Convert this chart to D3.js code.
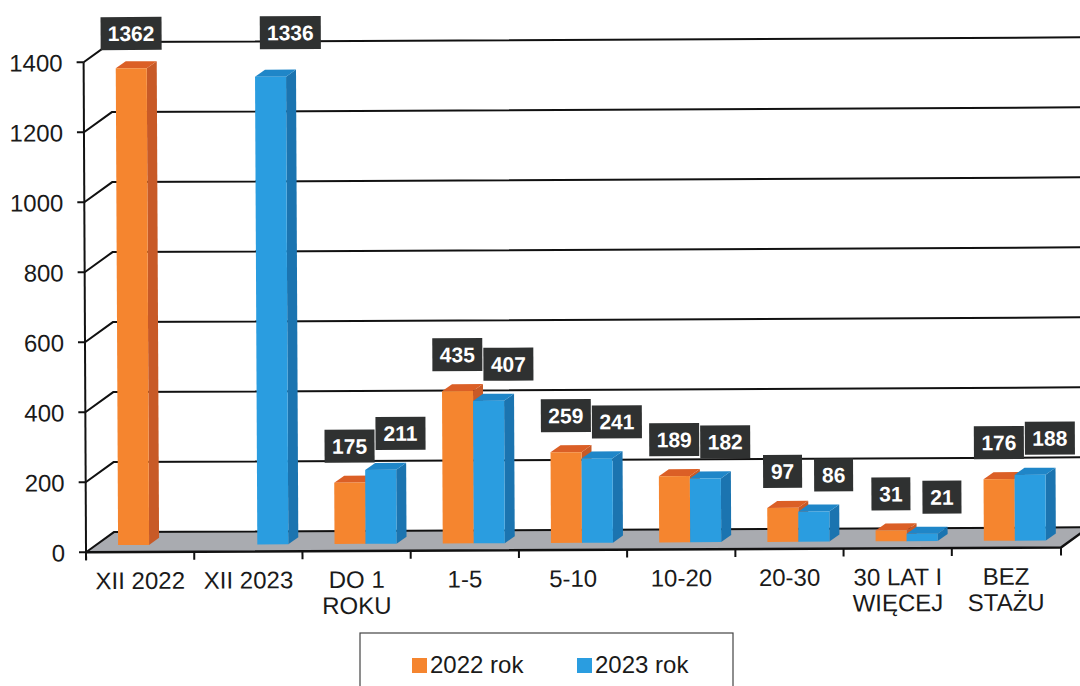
<!DOCTYPE html>
<html>
<head>
<meta charset="utf-8">
<script src="https://cdn.jsdelivr.net/npm/d3@7"></script>
<style>
  body { margin: 0; background: #fff; }
  text { font-family: "Liberation Sans", Arial, sans-serif; }
</style>
</head>
<body>
<div id="chart"></div>
<script>
// data
var categories = ["XII 2022", "XII 2023", "DO 1\nROKU", "1-5", "5-10", "10-20", "20-30", "30 LAT I\nWIĘCEJ", "BEZ\nSTAŻU"];
var values2022 = [1362, null, 175, 435, 259, 189, 97, 31, 176];
var values2023 = [null, 1336, 211, 407, 241, 182, 86, 21, 188];
var seriesNames = ["2022 rok", "2023 rok"];
var yTicks = [0, 200, 400, 600, 800, 1000, 1200, 1400];

var W = 1080, H = 686;
var plotLeft = 85, plotRight = 1059, plotBottom = 550, plotTop = 60;
var floorDx = 28, floorDy = -20;   // depth of the floor / back wall
var barOx = 9, barOy = -7;         // bar front plane offset
var barDx = 10, barDy = -7;        // bar depth

var colors = {
  "2022 rok": { front: "#f5852f", side: "#c85a27", top: "#db5f26" },
  "2023 rok": { front: "#2a9de0", side: "#1b74b0", top: "#1f86c8" }
};

var svg = d3.select("#chart").append("svg")
    .attr("width", W)
    .attr("height", H);

var x = d3.scaleBand()
    .domain(categories)
    .range([plotLeft, plotRight])
    .padding(0);

var x1 = d3.scaleBand()
    .domain(seriesNames)
    .range([0, x.bandwidth()])
    .paddingInner(0)
    .paddingOuter(0.745);

var y = d3.scaleLinear()
    .domain([0, 1400])
    .range([plotBottom, plotTop]);

var g = svg.append("g").attr("transform", "rotate(-0.28, 540, 343)");

// floor
g.append("path")
  .attr("d", "M" + plotLeft + "," + plotBottom + "L" + (plotRight + 1) + "," + plotBottom +
       "L" + (plotRight + 1 + floorDx) + "," + (plotBottom + floorDy) +
       "L" + (plotLeft + floorDx) + "," + (plotBottom + floorDy) + "Z")
  .attr("fill", "#a9abb0");

// back wall gridlines + diagonals
g.selectAll(".grid").data(yTicks).enter().append("path")
  .attr("class", "grid")
  .attr("d", function(d) {
    return "M" + plotLeft + "," + y(d) + "L" + (plotLeft + floorDx) + "," + (y(d) + floorDy) + "L" + (W + 5) + "," + (y(d) + floorDy);
  })
  .attr("fill", "none")
  .attr("stroke", "#111")
  .attr("stroke-width", 2);

// front floor edge + right edge
g.append("path")
  .attr("d", "M" + plotLeft + "," + plotBottom + "L" + (plotRight + 1) + "," + plotBottom + "L" + (plotRight + 1 + floorDx) + "," + (plotBottom + floorDy))
  .attr("fill", "none")
  .attr("stroke", "#111")
  .attr("stroke-width", 2.5);

// bars
var bars = [];
categories.forEach(function(c, i) {
  [values2022[i], values2023[i]].forEach(function(v, j) {
    if (v == null) return;
    bars.push({ cat: c, series: seriesNames[j], value: v });
  });
});

bars.forEach(function(d) {
  var bx = x(d.cat) + x1(d.series) + barOx;
  var w = x1.bandwidth();
  var yb = plotBottom + barOy;
  var yt = y(d.value) + barOy;
  var col = colors[d.series];
  d.bx = bx; d.w = w; d.yt = yt;
  var bg = g.append("g");
  bg.append("path")
    .attr("d", "M" + (bx + w) + "," + yt + "L" + (bx + w + barDx) + "," + (yt + barDy) +
         "L" + (bx + w + barDx) + "," + (yb + barDy) + "L" + (bx + w) + "," + yb + "Z")
    .attr("fill", col.side);
  bg.append("path")
    .attr("d", "M" + bx + "," + yt + "L" + (bx + w) + "," + yt +
         "L" + (bx + w + barDx) + "," + (yt + barDy) + "L" + (bx + barDx) + "," + (yt + barDy) + "Z")
    .attr("fill", col.top);
  bg.append("rect")
    .attr("x", bx).attr("y", yt)
    .attr("width", w).attr("height", yb - yt)
    .attr("fill", col.front);
});

// y axis
g.append("line")
  .attr("x1", plotLeft).attr("x2", plotLeft)
  .attr("y1", plotTop).attr("y2", plotBottom + 8)
  .attr("stroke", "#111").attr("stroke-width", 2);

g.selectAll(".ytick").data(yTicks).enter().append("line")
  .attr("x1", plotLeft - 7).attr("x2", plotLeft)
  .attr("y1", function(d) { return y(d); })
  .attr("y2", function(d) { return y(d); })
  .attr("stroke", "#111").attr("stroke-width", 2);

g.selectAll(".ylab").data(yTicks).enter().append("text")
  .attr("x", 64)
  .attr("y", function(d) { return y(d) + 9; })
  .attr("text-anchor", "end")
  .style("font-size", "24px")
  .style("fill", "#1a1a1a")
  .text(function(d) { return d; });

// x ticks
var xEdges = categories.map(function(c) { return x(c); }).concat([plotRight + 1]);
g.selectAll(".xtick").data(xEdges).enter().append("line")
  .attr("x1", function(d) { return d; })
  .attr("x2", function(d) { return d; })
  .attr("y1", plotBottom).attr("y2", plotBottom + 8)
  .attr("stroke", "#111").attr("stroke-width", 2);

// x labels
var xl = g.selectAll(".xlab").data(categories).enter().append("text")
  .attr("text-anchor", "middle")
  .style("font-size", "24px")
  .style("fill", "#1a1a1a");
xl.each(function(c) {
  var t = d3.select(this);
  c.split("\n").forEach(function(line, k) {
    t.append("tspan")
      .attr("x", x(c) + x.bandwidth() / 2)
      .attr("y", 587 + k * 26)
      .text(line);
  });
});

// data labels
bars.forEach(function(d) {
  var cx = d.bx + d.w / 2 + (d.series === "2023 rok" ? 20 : 0);
  var cy = d.yt - 37;
  if (cy < 60) cy = 31;
  var label = String(d.value);
  var bw = label.length * 11 + 17;
  g.append("rect")
    .attr("x", cx - bw / 2).attr("y", cy - 16)
    .attr("width", bw).attr("height", 33)
    .attr("fill", "#2f3131");
  g.append("text")
    .attr("x", cx).attr("y", cy + 8)
    .attr("text-anchor", "middle")
    .style("font-size", "21px")
    .style("font-weight", "bold")
    .style("fill", "#fff")
    .text(label);
});

// legend
var lg = svg.append("g");
lg.append("rect")
  .attr("x", 360).attr("y", 633)
  .attr("width", 373).attr("height", 70)
  .attr("fill", "#fff")
  .attr("stroke", "#444").attr("stroke-width", 1.2);
seriesNames.forEach(function(s, i) {
  var lx = 412 + i * 165;
  lg.append("rect")
    .attr("x", lx).attr("y", 658)
    .attr("width", 15).attr("height", 15)
    .attr("fill", colors[s].front);
  lg.append("text")
    .attr("x", lx + 18).attr("y", 673)
    .style("font-size", "24px")
    .style("fill", "#1a1a1a")
    .text(s);
});
</script>
</body>
</html>
